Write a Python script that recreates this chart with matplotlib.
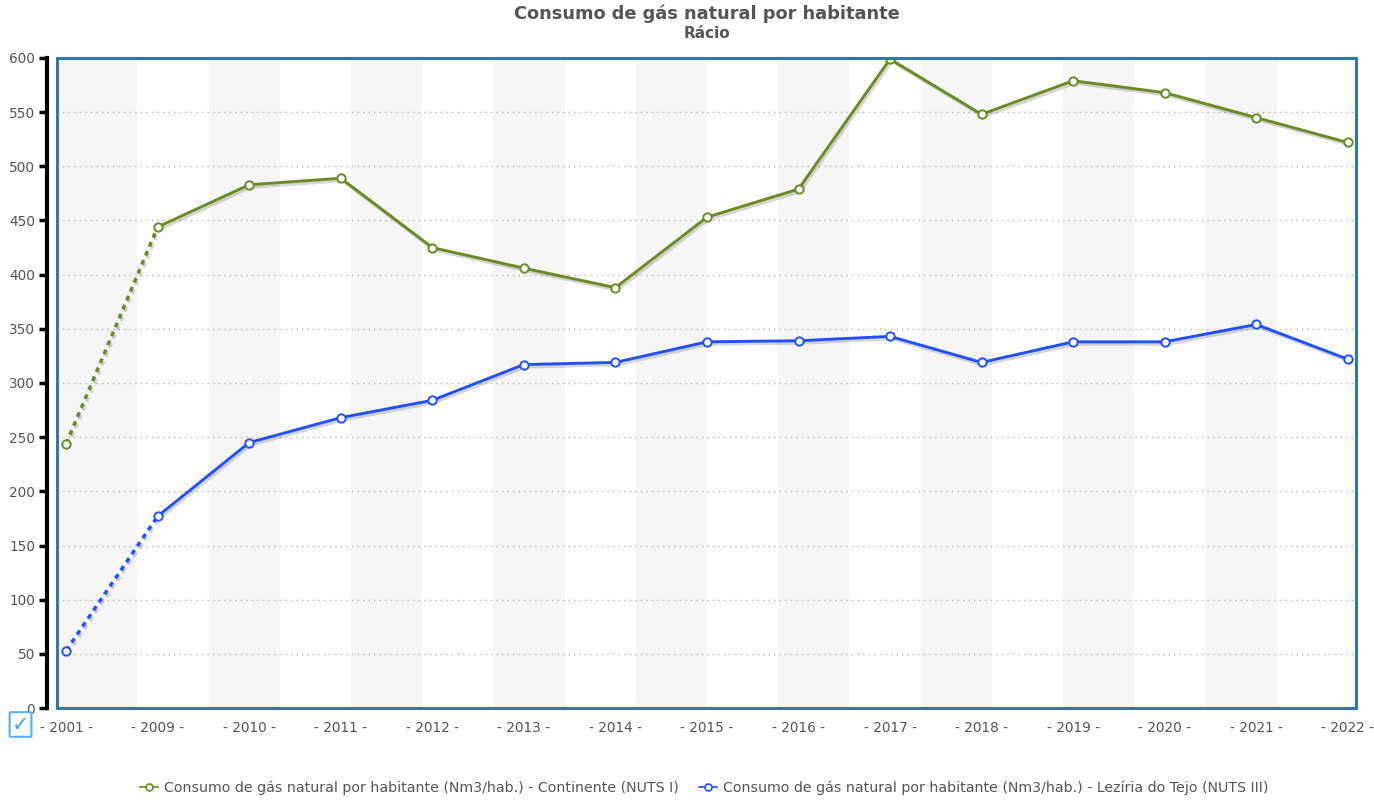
import matplotlib
matplotlib.use("Agg")
import matplotlib.pyplot as plt
import matplotlib.patheffects as pe
from matplotlib.patches import Rectangle, FancyBboxPatch
from matplotlib.lines import Line2D

years = ["2001", "2009", "2010", "2011", "2012", "2013", "2014", "2015",
         "2016", "2017", "2018", "2019", "2020", "2021", "2022"]
continente = [244, 444, 483, 489, 425, 406, 388, 453, 479, 599, 548, 579, 568, 545, 522]
leziria = [53, 177, 245, 268, 284, 317, 319, 338, 339, 343, 319, 338, 338, 354, 322]

label_cont = "Consumo de gás natural por habitante (Nm3/hab.) - Continente (NUTS I)"
label_lez = "Consumo de gás natural por habitante (Nm3/hab.) - Lezíria do Tejo (NUTS III)"
green = "#6b8a24"
blue = "#2150ff"
text_grey = "#555555"

fig = plt.figure(figsize=(13.74, 8), dpi=100)
ax = fig.add_axes([57 / 1374, 92 / 800, 1299 / 1374, 650 / 800])

xs = list(range(len(years)))
x_lo, x_hi = -0.1, len(years) - 1 + 0.09
ax.set_xlim(x_lo, x_hi)
ax.set_ylim(0, 600)

# nine light column bands across the category span
n_bands = 9
step = (len(years) - 1) / n_bands
for k in range(n_bands):
    left = x_lo if k == 0 else k * step
    ax.axvspan(left, k * step + step / 2, color="#f6f6f6", lw=0, zorder=0)

shadow = [pe.SimpleLineShadow(offset=(1.2, -1.8), alpha=0.16, shadow_color="black"), pe.Normal()]

for vals, col in [(continente, green), (leziria, blue)]:
    # first gap (2001 -> 2009) drawn dotted
    ax.plot(xs[:2], vals[:2], color=col, lw=2.5, linestyle=(0, (1.4, 1.4)),
            path_effects=shadow, zorder=3)
    ax.plot(xs[1:], vals[1:], color=col, lw=2.1, path_effects=shadow, zorder=3,
            solid_joinstyle="round")
    ax.plot(xs, vals, linestyle="none", marker="o", ms=6, mfc="white", mec=col,
            mew=1.4, zorder=4)

ax.set_yticks(range(0, 601, 50))
ax.yaxis.grid(True, linestyle=(0, (1, 3)), color="#b5b5b5", lw=1)
ax.set_axisbelow(True)

ax.set_xticks(xs)
ax.set_xticklabels([f"- {y} -" for y in years])
ax.tick_params(axis="x", length=0, pad=9, labelsize=9.8, labelcolor=text_grey)
ax.tick_params(axis="y", length=5.5, width=2.5, color="black", pad=3,
               labelsize=9.8, labelcolor=text_grey)

for s in ["top", "right", "bottom"]:
    ax.spines[s].set_visible(False)
ax.spines["left"].set_position(("outward", 7.2))
ax.spines["left"].set_color("black")
ax.spines["left"].set_linewidth(3)

ax.add_patch(Rectangle((0, 0), 1, 1, transform=ax.transAxes, fill=False,
                       edgecolor="#2f78a8", lw=2.2, clip_on=False, zorder=5))

title_x = 707 / 1374
fig.text(title_x, 1 - 14 / 800, "Consumo de gás natural por habitante", ha="center",
         va="center", fontsize=12.8, fontweight="bold", color=text_grey)
fig.text(title_x, 1 - 34 / 800, "Rácio", ha="center", va="center", fontsize=11,
         fontweight="bold", color=text_grey)

# check box in the lower left corner
fig.patches.append(FancyBboxPatch((11 / 1374, 64 / 800), 19 / 1374, 23 / 800,
                                  boxstyle="round,pad=0.001", transform=fig.transFigure,
                                  facecolor="white", edgecolor="#5ab0ee", lw=1.5))
fig.text(20.5 / 1374, 75 / 800, "✓", ha="center", va="center", fontsize=15,
         color="#4aa6ea")

handles = [
    Line2D([], [], color=green, lw=1.2, marker="o", ms=5, mfc="white", mec=green, mew=1.2),
    Line2D([], [], color=blue, lw=1.2, marker="o", ms=5, mfc="white", mec=blue, mew=1.2),
]
leg = fig.legend(handles, [label_cont, label_lez], loc="center", ncol=2,
                 bbox_to_anchor=(704 / 1374, 12 / 800), frameon=False, fontsize=10.2,
                 handlelength=1.3, handletextpad=0.4, columnspacing=1.4)
for t in leg.get_texts():
    t.set_color(text_grey)

fig.savefig("out.png", dpi=100)
